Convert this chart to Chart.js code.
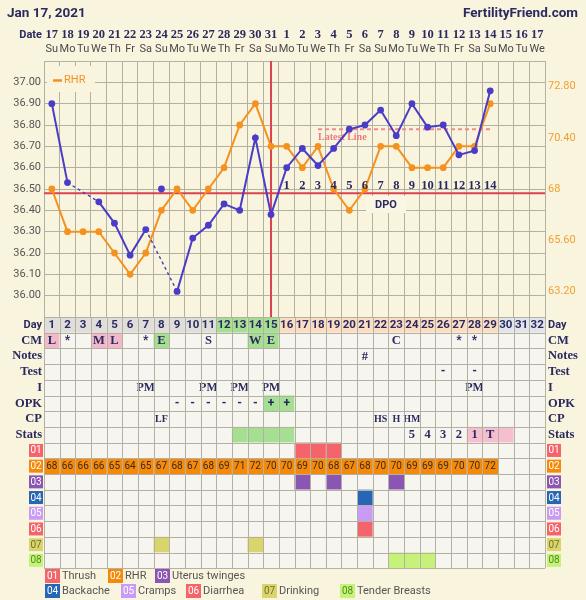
<!DOCTYPE html>
<html>
<head>
<meta charset="utf-8">
<script src="https://cdn.jsdelivr.net/npm/chart.js@4.4.1/dist/chart.umd.min.js"></script>
<style>
  html, body { margin: 0; padding: 0; background: #f9f4de; }
  #wrap { position: relative; width: 586px; height: 600px; }
</style>
</head>
<body>
<div id="wrap"><canvas id="chart" width="586" height="600"></canvas></div>
<script>
// ---- data ----
const chartDate = 'Jan 17, 2021'
const siteName = 'FertilityFriend.com'
const cycleDays = ['1','2','3','4','5','6','7','8','9','10','11','12','13','14','15','16',
  '17','18','19','20','21','22','23','24','25','26','27','28','29','30','31','32']
const calendarDates = ['17','18','19','20','21','22','23','24','25','26','27','28','29','30','31',
  '1','2','3','4','5','6','7','8','9','10','11','12','13','14','15','16','17']
const weekdays = ['Su','Mo','Tu','We','Th','Fr','Sa','Su','Mo','Tu','We','Th','Fr','Sa','Su','Mo',
  'Tu','We','Th','Fr','Sa','Su','Mo','Tu','We','Th','Fr','Sa','Su','Mo','Tu','We']

// temperatures (°C), null = no reading / discarded
const temps = [36.90, 36.53, null, 36.44, 36.34, 36.19, 36.31, null, 36.02, 36.27, 36.33, 36.43,
  36.40, 36.74, 36.38, 36.60, 36.69, 36.61, 36.69, 36.78, 36.80, 36.87, 36.75, 36.90, 36.79,
  36.80, 36.66, 36.68, 36.96, null, null, null]
// discarded reading shown but not connected
const discardedTemps = [null, null, null, null, null, null, null, 36.50]
// resting heart rate (bpm)
const rhr = [68, 66, 66, 66, 65, 64, 65, 67, 68, 67, 68, 69, 71, 72, 70, 70, 69, 70, 68, 67, 68,
  70, 70, 69, 69, 69, 70, 70, 72]

const tempTickLabels = [36.00, 36.10, 36.20, 36.30, 36.40, 36.50, 36.60, 36.70, 36.80, 36.90, 37.00]
const rhrTickLabels = [63.2, 65.6, 68, 70.4, 72.8]

const coverline = 36.48
const ovulationDay = 15
const latestLineDays = [18, 29]
const latestLineTemp = 36.78
const dpoStartDay = 16
const dpoLabels = ['1','2','3','4','5','6','7','8','9','10','11','12','13','14']

// day row phase: p = pre-ovulation, f = fertile, o = post-ovulation, u = future
const dayPhase = ['p','p','p','p','p','p','p','p','p','p','p','f','f','f','f','o',
  'o','o','o','o','o','o','o','o','o','o','o','o','o','u','u','u']
const cmValues = ['L','*','','M','L','','*','E','','','S','','','W','E','',
  '','','','','','','C','','','','*','*','','','','']
const notesValues = ['','','','','','','','','','','','','','','','',
  '','','','','#','','','','','','','','','','','']
const testValues = ['','','','','','','','','','','','','','','','',
  '','','','','','','','','','-','','-','','','','']
const intercourseValues = ['','','','','','','PM','','','','PM','','PM','','PM','',
  '','','','','','','','','','','','PM','','','','']
const opkValues = ['','','','','','','','','-','-','-','-','-','-','+','+',
  '','','','','','','','','','','','','','','','']
const cpValues = ['','','','','','','','LF','','','','','','','','',
  '','','','','','HS','H','HM','','','','','','','','']
const statsValues = ['','','','','','','','','','','','','','','','',
  '','','','','','','','5','4','3','2','1','T','','','']
// stats row shading: f = fertile window, t = test days
const statsPhase = ['','','','','','','','','','','','','f','f','f','f',
  '','','','','','','','','','','','t','t','t','','']

const symptomCodes = ['01','02','03','04','05','06','07','08']
const symptomNames = ['Thrush','RHR','Uterus twinges','Backache','Cramps','Diarrhea','Drinking','Tender Breasts']
const symptomDays = [[17, 18, 19], [], [17, 19, 23], [21], [21], [21], [8, 14], [23, 24, 25]]

// ---- styles ----
const navy = '#2b2a5e'
const blue = '#4a3cc6'
const orange = '#f5921f'
const red = '#d9444f'
const gridColor = '#b2b1a4'
const cellBg = '#f6f5ef'
const pageBg = '#f9f4de'
const symptomColors = ['#f4646a', '#f58a0a', '#8a55b3', '#2566b5', '#c99bf4', '#f4646a', '#d9d56c', '#c6f27a']
const badgeText = ['#fff', '#fff', '#fff', '#fff', '#fff', '#fff', '#77722a', '#4f8f1a']
const phaseColors = { p: '#dfdedb', f: '#a5df92', o: '#fcddc2', u: '#e2e4ec' }
const serifBold = 'bold 12.5px "Liberation Serif", serif'
const rowH = 15.7

const text = (ctx, s, x, y, font, color, align) => {
  ctx.font = font
  ctx.fillStyle = color
  ctx.textAlign = align || 'center'
  ctx.textBaseline = 'middle'
  ctx.fillText(s, x, y)
}

const isGap = (ctx) => ctx.p1DataIndex - ctx.p0DataIndex > 1 ||
  temps[ctx.p0DataIndex] == null || temps[ctx.p1DataIndex] == null

const cyclePlugin = {
  id: 'cycle',
  beforeDatasetsDraw(chart) {
    const { ctx, chartArea: a, scales: { x, y } } = chart
    ctx.save()
    // RHR legend
    ctx.fillStyle = pageBg
    ctx.fillRect(47, 66, 48, 26)
    ctx.strokeStyle = orange
    ctx.lineWidth = 2.5
    ctx.beginPath()
    ctx.moveTo(53, 80.5)
    ctx.lineTo(62, 80.5)
    ctx.stroke()
    text(ctx, 'RHR', 64, 80.5, '11px Roboto', orange, 'left')

    // DPO label box
    ctx.fillStyle = '#faf6e4'
    ctx.fillRect(366, 196, 40, 17)
    text(ctx, 'DPO', 386, 205, 'bold 11px Roboto', navy)

    // latest line
    const ly = y.getPixelForValue(latestLineTemp)
    ctx.strokeStyle = '#f28a8a'
    ctx.lineWidth = 2
    ctx.setLineDash([4, 3])
    ctx.beginPath()
    ctx.moveTo(x.getPixelForValue(latestLineDays[0] - 1), ly)
    ctx.lineTo(x.getPixelForValue(latestLineDays[1] - 1), ly)
    ctx.stroke()
    ctx.setLineDash([])
    text(ctx, 'Latest Line', x.getPixelForValue(latestLineDays[0] - 1), ly + 8,
      'bold 10px "Liberation Serif", serif', '#f07a7a', 'left')

    // coverline and ovulation
    ctx.strokeStyle = red
    ctx.lineWidth = 2
    const cy = y.getPixelForValue(coverline)
    ctx.beginPath()
    ctx.moveTo(a.left, cy)
    ctx.lineTo(a.right, cy)
    const ox = x.getPixelForValue(ovulationDay - 1)
    ctx.moveTo(ox, a.top)
    ctx.lineTo(ox, a.bottom)
    ctx.stroke()
    ctx.restore()
  },
  afterDatasetsDraw(chart) {
    const { ctx, scales: { x, y } } = chart
    ctx.save()
    const cy = y.getPixelForValue(coverline) - 8
    dpoLabels.forEach((s, i) => {
      text(ctx, s, x.getPixelForValue(dpoStartDay - 1 + i), cy, serifBold, navy)
    })
    ctx.restore()
  },
  afterDraw(chart) {
    const { ctx, chartArea: a, scales: { x } } = chart
    const n = cycleDays.length
    const colW = (a.right - a.left) / n
    ctx.save()
    // header
    text(ctx, chartDate, 7, 14, 'bold 13.5px Roboto', navy, 'left')
    text(ctx, siteName, 578, 14, 'bold 13.5px Roboto', navy, 'right')
    text(ctx, 'Date', 42, 35, 'bold 11px Roboto', navy, 'right')
    for (let i = 0; i < n; i++) {
      const cx = x.getPixelForValue(i)
      text(ctx, calendarDates[i], cx, 35, 'bold 12.5px "Liberation Serif", serif', navy)
      text(ctx, weekdays[i], cx, 49, '11px Roboto', '#4a4a4a')
    }

    // table
    const top = a.bottom
    const textRows = [cmValues, notesValues, testValues, intercourseValues, opkValues, cpValues, statsValues]
    const rowLabels = ['Day', 'CM', 'Notes', 'Test', 'I', 'OPK', 'CP', 'Stats']
    const nRows = rowLabels.length + symptomCodes.length
    for (let r = 0; r < nRows; r++) {
      const ry = top + r * rowH
      const my = ry + rowH / 2
      for (let i = 0; i < n; i++) {
        const cx = x.getPixelForValue(i)
        const left = cx - colW / 2
        let bg = cellBg
        let label = ''
        let font = serifBold
        let color = navy
        if (r === 0) {
          bg = phaseColors[dayPhase[i]]
          label = cycleDays[i]
          font = 'bold 11.5px Roboto'
        } else if (r < 8) {
          label = textRows[r - 1][i]
          if (r === 1 && (label === 'L' || label === 'M')) bg = '#f3b8ca'
          if (r === 1 && (label === 'E' || label === 'W')) bg = '#a5df92'
          if (r === 5 && label === '+') bg = '#a5df92'
          if (r === 7 && statsPhase[i] === 'f') bg = '#a5df92'
          if (r === 7 && statsPhase[i] === 't') bg = '#f6bfd0'
          if (label === '*' || label === '-' || label === '+') font = 'bold 12px Roboto'
          if (r === 4) font = 'bold 12px "Liberation Serif", serif'
          if (r === 6) font = 'bold 10px "Liberation Serif", serif'
        } else {
          const k = r - 8
          if (k === 1) {
            if (rhr[i] !== undefined) {
              bg = symptomColors[k]
              label = String(rhr[i])
              font = '10px Roboto'
              color = '#3b2a1a'
            }
          } else if (symptomDays[k].includes(i + 1)) {
            bg = symptomColors[k]
          }
        }
        ctx.fillStyle = bg
        ctx.fillRect(left, ry, colW, rowH)
        if (label) text(ctx, label, cx, my + 0.5, font, color)
      }
      // row labels / badges
      if (r < 8) {
        const f = r === 0 ? 'bold 11px Roboto' : serifBold
        text(ctx, rowLabels[r], a.left - 2, my, f, navy, 'right')
        text(ctx, rowLabels[r], a.right + 3, my, f, navy, 'left')
      } else {
        const k = r - 8
        ;[a.left - 15, a.right + 2].forEach(bx => {
          ctx.fillStyle = symptomColors[k]
          ctx.fillRect(bx, my - 6.5, 14, 13)
          text(ctx, symptomCodes[k], bx + 7, my + 0.5, '10px Roboto', badgeText[k])
        })
      }
    }
    // table grid
    ctx.strokeStyle = gridColor
    ctx.lineWidth = 1
    ctx.beginPath()
    for (let i = 0; i <= n; i++) {
      const gx = Math.round(a.left + i * colW) + 0.5
      ctx.moveTo(gx, top)
      ctx.lineTo(gx, top + nRows * rowH)
    }
    for (let r = 0; r <= nRows; r++) {
      const gy = Math.round(top + r * rowH) + 0.5
      ctx.moveTo(a.left, gy)
      ctx.lineTo(a.right, gy)
    }
    ctx.stroke()

    // bottom legend
    const slots = [[45, 576], [108, 576], [155, 576], [45, 591], [121, 591], [186, 591], [262, 591], [340, 591]]
    symptomCodes.forEach((code, k) => {
      const [lx, lyy] = slots[k]
      ctx.fillStyle = symptomColors[k]
      ctx.fillRect(lx, lyy - 7, 15, 14)
      text(ctx, code, lx + 7.5, lyy + 0.5, '10px Roboto', badgeText[k])
      text(ctx, symptomNames[k], lx + 17, lyy, '11px Roboto', '#555', 'left')
    })
    ctx.restore()
  }
}

new Chart(document.getElementById('chart'), {
  type: 'line',
  data: {
    labels: cycleDays,
    datasets: [
      {
        label: 'Temp',
        data: temps,
        yAxisID: 'y',
        borderColor: blue,
        backgroundColor: blue,
        borderWidth: 2,
        pointRadius: 3.4,
        pointBorderWidth: 0,
        spanGaps: true,
        order: 0,
        segment: {
          borderDash: ctx => isGap(ctx) ? [3, 3] : undefined,
          borderWidth: ctx => isGap(ctx) ? 1.4 : undefined
        }
      },
      {
        label: 'Discarded',
        data: discardedTemps,
        yAxisID: 'y',
        showLine: false,
        backgroundColor: blue,
        borderColor: blue,
        pointRadius: 3.4,
        pointBorderWidth: 0,
        order: 1
      },
      {
        label: 'RHR',
        data: rhr,
        yAxisID: 'y2',
        borderColor: orange,
        backgroundColor: orange,
        borderWidth: 2,
        pointRadius: 3.4,
        pointBorderWidth: 0,
        order: 2
      }
    ]
  },
  options: {
    responsive: false,
    animation: false,
    layout: { padding: { top: 61, bottom: 283, left: 0, right: 0 } },
    plugins: { legend: { display: false }, tooltip: { enabled: false } },
    scales: {
      x: {
        type: 'category',
        offset: true,
        grid: { offset: true, color: gridColor, drawTicks: false },
        border: { display: false },
        ticks: { display: false },
        afterFit: s => { s.height = 0 }
      },
      y: {
        position: 'left',
        min: 35.9,
        max: 37.1,
        afterBuildTicks: s => {
          const t = []
          for (let k = 0; k <= 24; k++) t.push({ value: 35.9 + k * 0.05 })
          s.ticks = t
        },
        afterFit: s => { s.width = 44 },
        grid: { color: gridColor, drawTicks: false },
        border: { display: false },
        ticks: {
          padding: 3,
          color: '#555',
          font: { family: 'Roboto', size: 11 },
          callback: v => {
            const hit = tempTickLabels.find(t => Math.abs(t - v) < 0.001)
            return hit === undefined ? '' : hit.toFixed(2)
          }
        }
      },
      y2: {
        position: 'right',
        min: 62,
        max: 74,
        afterBuildTicks: s => { s.ticks = rhrTickLabels.map(v => ({ value: v })) },
        afterFit: s => { s.width = 41 },
        grid: { display: false, drawTicks: false },
        border: { display: false },
        ticks: {
          padding: 3,
          color: '#f0a032',
          font: { family: 'Roboto', size: 11 },
          callback: v => Number.isInteger(v) ? String(v) : v.toFixed(2)
        }
      }
    }
  },
  plugins: [cyclePlugin]
})
</script>
</body>
</html>
